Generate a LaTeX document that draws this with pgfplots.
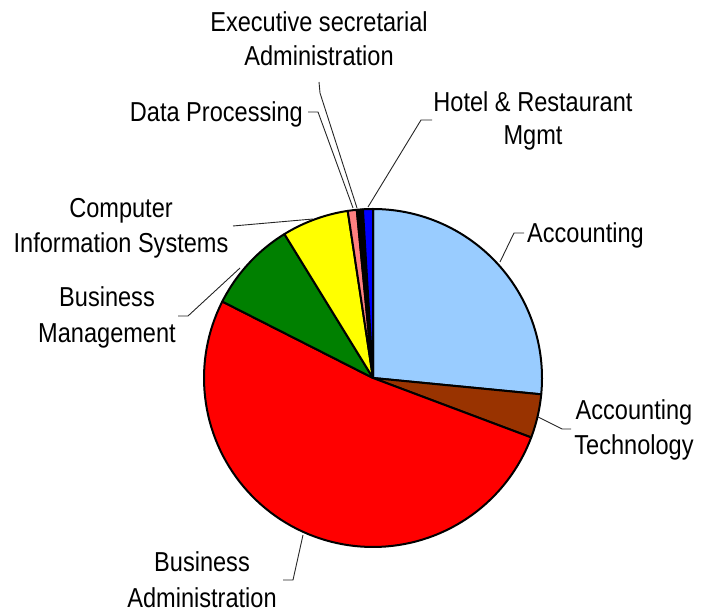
\documentclass[border=0pt]{standalone}
\usepackage{fontspec}
\setmainfont{Liberation Sans}[FakeStretch=0.86]
\usepackage{pgfplots}
\pgfplotsset{compat=1.18}
\definecolor{cAcc}{HTML}{99CCFF}
\definecolor{cAccT}{HTML}{993300}
\definecolor{cBA}{HTML}{FF0000}
\definecolor{cBM}{HTML}{008000}
\definecolor{cCIS}{HTML}{FFFF00}
\definecolor{cDP}{HTML}{FF8080}
\definecolor{cES}{HTML}{000000}
\definecolor{cHR}{HTML}{0000FF}
\newcommand\cx{373}
\newcommand\cy{234}
\newcommand\R{169}
% slice: start cumulative %, end cumulative %, colour (clockwise from 12 o'clock)
\newcommand\slice[3]{%
  \addplot[draw=black, line width=2bp, line join=round, fill=#3, domain={90-3.6*(#2)}:{90-3.6*(#1)}, samples=90]
    ({\cx+\R*cos(x)},{\cy+\R*sin(x)}) -- (axis cs:\cx,\cy) -- cycle;}
\newcommand\lbl{\fontsize{27.5}{34}\selectfont}
\begin{document}
\begin{tikzpicture}
\begin{axis}[hide axis, scale only axis, width=701bp, height=612bp,
  xmin=0, xmax=701, ymin=0, ymax=612, clip=false]
\path (axis cs:0,0) rectangle (axis cs:701,612);
% shares in percent: Accounting 26.54, Accounting Technology 4.18,
% Business Administration 51.75, Business Management 8.75,
% Computer Information Systems 6.39, Data Processing 0.86,
% Executive secretarial Administration 0.58, Hotel & Restaurant Mgmt 0.95
\slice{0}{26.54}{cAcc}
\slice{26.54}{30.72}{cAccT}
\slice{30.72}{82.47}{cBA}
\slice{82.47}{91.22}{cBM}
\slice{91.22}{97.61}{cCIS}
\slice{97.61}{98.47}{cDP}
\slice{98.47}{99.05}{cES}
\slice{99.05}{100}{cHR}
% leader lines
\addplot[black!85, line width=0.9bp] coordinates {(500,350) (514,379) (524,379)};
\addplot[black!85, line width=0.9bp] coordinates {(538,195) (562,183) (571,183)};
\addplot[black!85, line width=0.9bp] coordinates {(303,77) (293,32) (283,32)};
\addplot[black!85, line width=0.9bp] coordinates {(240,344) (188,296) (178,296)};
\addplot[black!85, line width=0.9bp] coordinates {(313,393) (233,386)};
\addplot[black!85, line width=0.9bp] coordinates {(308,500) (318,500) (353,404)};
\addplot[black!85, line width=0.9bp] coordinates {(319,530) (320,519) (357,404)};
\addplot[black!85, line width=0.9bp] coordinates {(432,492) (421,492) (368,405)};
% labels
\node[anchor=base west, inner sep=0, font=\lbl] at (axis cs:527,369) {Accounting};
\node[anchor=base, inner sep=0, font=\lbl] at (axis cs:634,192) {Accounting};
\node[anchor=base, inner sep=0, font=\lbl] at (axis cs:634,157) {Technology};
\node[anchor=base, inner sep=0, font=\lbl] at (axis cs:202,40) {Business};
\node[anchor=base, inner sep=0, font=\lbl] at (axis cs:202,5) {Administration};
\node[anchor=base, inner sep=0, font=\lbl] at (axis cs:107,305) {Business};
\node[anchor=base, inner sep=0, font=\lbl] at (axis cs:107,269) {Management};
\node[anchor=base, inner sep=0, font=\lbl] at (axis cs:121,394) {Computer};
\node[anchor=base, inner sep=0, font=\lbl] at (axis cs:121,359) {Information Systems};
\node[anchor=base east, inner sep=0, font=\lbl] at (axis cs:303,490) {Data Processing};
\node[anchor=base, inner sep=0, font=\lbl] at (axis cs:319,580) {Executive secretarial};
\node[anchor=base, inner sep=0, font=\lbl] at (axis cs:319,546) {Administration};
\node[anchor=base, inner sep=0, font=\lbl] at (axis cs:533,500) {Hotel \& Restaurant};
\node[anchor=base, inner sep=0, font=\lbl] at (axis cs:533,467) {Mgmt};
\end{axis}
\end{tikzpicture}
\end{document}
